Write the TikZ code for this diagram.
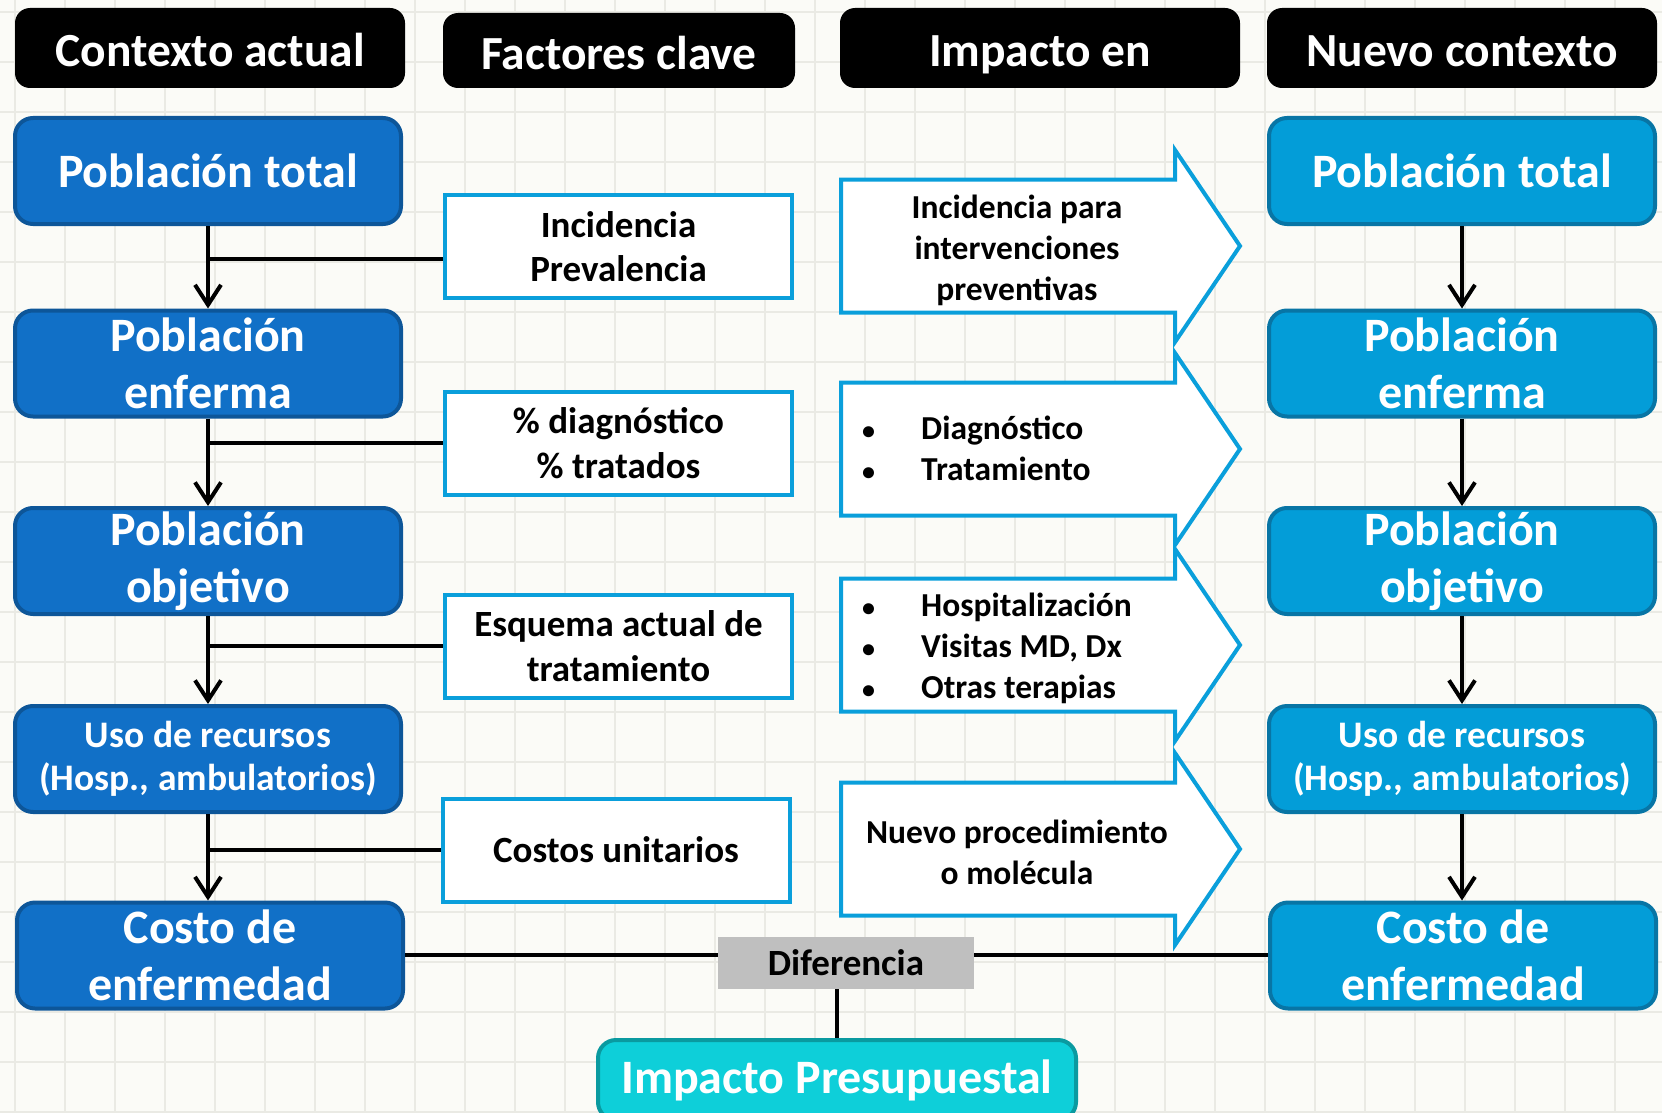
\documentclass[tikz,border=0pt]{standalone}
\usepackage{fontspec}
\setmainfont{Carlito}
\usetikzlibrary{arrows.meta}
\definecolor{bgc}{HTML}{FBFBF7}
\definecolor{gridc}{HTML}{EAEAE4}
\definecolor{lfill}{HTML}{1170C7}
\definecolor{ldraw}{HTML}{0D5699}
\definecolor{rfill}{HTML}{039DD8}
\definecolor{rdraw}{HTML}{0875A5}
\definecolor{cyb}{HTML}{0A9FDB}
\definecolor{ipfill}{HTML}{0ECFD9}
\definecolor{ipdraw}{HTML}{0A9AA0}
\definecolor{difc}{HTML}{BFBFBF}
\begin{document}
\begin{tikzpicture}[x=1pt,y=-1pt,
  hdr/.style={fill=black, rounded corners=15pt, text=white, inner sep=0pt,
    text height=39pt, text depth=1pt,
    font=\bfseries\fontsize{47.5}{52}\selectfont},
  lbox/.style={fill=lfill, draw=ldraw, line width=4pt, rounded corners=18pt, text=white,
    align=center, inner sep=0pt, minimum width=386pt, minimum height=106pt},
  rbox/.style={lbox, fill=rfill, draw=rdraw},
  bigt/.style={font=\bfseries\fontsize{48}{57}\selectfont},
  midt/.style={font=\bfseries\fontsize{37.5}{43}\selectfont},
  fbox/.style={fill=white, draw=cyb, line width=4pt, align=center, inner sep=0pt,
    minimum width=347pt, minimum height=103pt, font=\bfseries\fontsize{37}{44.5}\selectfont},
  arr/.style={fill=white, draw=cyb, line width=4pt, line join=miter},
  atxt/.style={align=center, inner sep=0pt, font=\bfseries\fontsize{33.5}{41}\selectfont},
  conn/.style={line width=4pt, -{Straight Barb[length=20pt,width=26pt,line width=4pt]}},
  plain/.style={line width=4pt},
]
\newcommand{\bul}{{\fontsize{26}{26}\selectfont\textbullet}}
\useasboundingbox (0,0) rectangle (1662,1113);
\fill[bgc] (0,0) rectangle (1662,1113);
\begin{scope}
\clip (0,0) rectangle (1662,1113);
\foreach \x in {15,65,...,1665} \draw[gridc, line width=2pt] (\x,0) -- (\x,1113);
\foreach \y in {12,62,...,1112} \draw[gridc, line width=2pt] (0,\y) -- (1662,\y);

% headers
\node[hdr, minimum width=390pt, minimum height=80pt] (h1) at (210,48) {Contexto actual};
\node[hdr, minimum width=352pt, minimum height=75pt] (h2) at (619,50.5) {Factores clave};
\node[hdr, minimum width=400pt, minimum height=80pt] (h3) at (1040,48) {Impacto en};
\node[hdr, minimum width=390pt, minimum height=80pt] (h4) at (1462,48) {Nuevo contexto};

% left column
\node[lbox, bigt] (L1) at (208,171) {Población total};
\node[lbox, bigt] (L2) at (208,363.5) {Población\\enferma};
\node[lbox, bigt] (L3) at (208,561) {Población\\objetivo};
\node[lbox, midt] (L4) at (208,759) {Uso de recursos\\(Hosp., ambulatorios)};
\node[lbox, bigt] (L5) at (210,955.5) {Costo de\\enfermedad};

% right column
\node[rbox, bigt] (R1) at (1462,171) {Población total};
\node[rbox, bigt] (R2) at (1462,363.5) {Población\\enferma};
\node[rbox, bigt] (R3) at (1462,561) {Población\\objetivo};
\node[rbox, midt] (R4) at (1462,759) {Uso de recursos\\(Hosp., ambulatorios)};
\node[rbox, bigt] (R5) at (1463,955.5) {Costo de\\enfermedad};

% factor boxes
\node[fbox] (F1) at (618.5,246.5) {Incidencia\\Prevalencia};
\node[fbox] (F2) at (618.5,443) {\% diagnóstico\\\% tratados};
\node[fbox] (F3) at (618.5,646) {Esquema actual de\\tratamiento};
\node[fbox] (F4) at (616,850) {Costos unitarios};

% impact arrows
\foreach \c in {246,449,645,849} {
  \draw[arr] (841,\c-66.5) -- (1175,\c-66.5) -- (1175,\c-96) -- (1240,\c) -- (1175,\c+96)
    -- (1175,\c+66.5) -- (841,\c+66.5) -- cycle;
}
\node[atxt] (A1) at (1017,250) {Incidencia para\\intervenciones\\preventivas};
\node[atxt, anchor=west] (A2) at (862,452) {\begin{tabular}{@{}l@{\hspace{46pt}}l@{}}\bul & Diagnóstico\\\bul & Tratamiento\end{tabular}};
\node[atxt, anchor=west] (A3) at (862,649) {\begin{tabular}{@{}l@{\hspace{46pt}}l@{}}\bul & Hospitalización\\\bul & Visitas MD, Dx\\\bul & Otras terapias\end{tabular}};
\node[atxt] (A4) at (1017,852) {Nuevo procedimiento\\o molécula};

% difference and budget impact
\node[fill=difc, minimum width=256pt, minimum height=52pt, inner sep=0pt,
  font=\bfseries\fontsize{37}{40}\selectfont] (D) at (846,963) {Diferencia};
\node[fill=ipfill, draw=ipdraw, line width=4pt, rounded corners=18pt, text=white,
  minimum width=478pt, minimum height=80pt, inner sep=0pt,
  font=\bfseries\fontsize{48}{52}\selectfont] (IP) at (837,1080) {Impacto Presupuestal};

% connectors left
\draw[conn] (L1.south) -- (L2.north);
\draw[conn] (L2.south) -- (L3.north);
\draw[conn] (L3.south) -- (L4.north);
\draw[conn] (L4.south) -- (L5.north -| L4.south);
\coordinate (b1) at (208,259);
\draw[plain] (b1) -- (b1 -| F1.west);
\draw[plain] (L1.south |- F2.west) -- (F2.west);
\draw[plain] (L1.south |- F3.west) -- (F3.west);
\draw[plain] (L1.south |- F4.west) -- (F4.west);

% connectors right
\draw[conn] (R1.south) -- (R2.north);
\draw[conn] (R2.south) -- (R3.north);
\draw[conn] (R3.south) -- (R4.north);
\draw[conn] (R4.south) -- (R5.north -| R4.south);

% difference lines
\coordinate (dl) at (846,955);
\draw[line width=4.5pt] (dl -| L5.east) -- (dl -| D.west);
\draw[line width=4.5pt] (dl -| D.east) -- (dl -| R5.west);
\draw[line width=4.5pt] (IP.north |- D.south) -- (IP.north);
\end{scope}
\end{tikzpicture}
\end{document}
